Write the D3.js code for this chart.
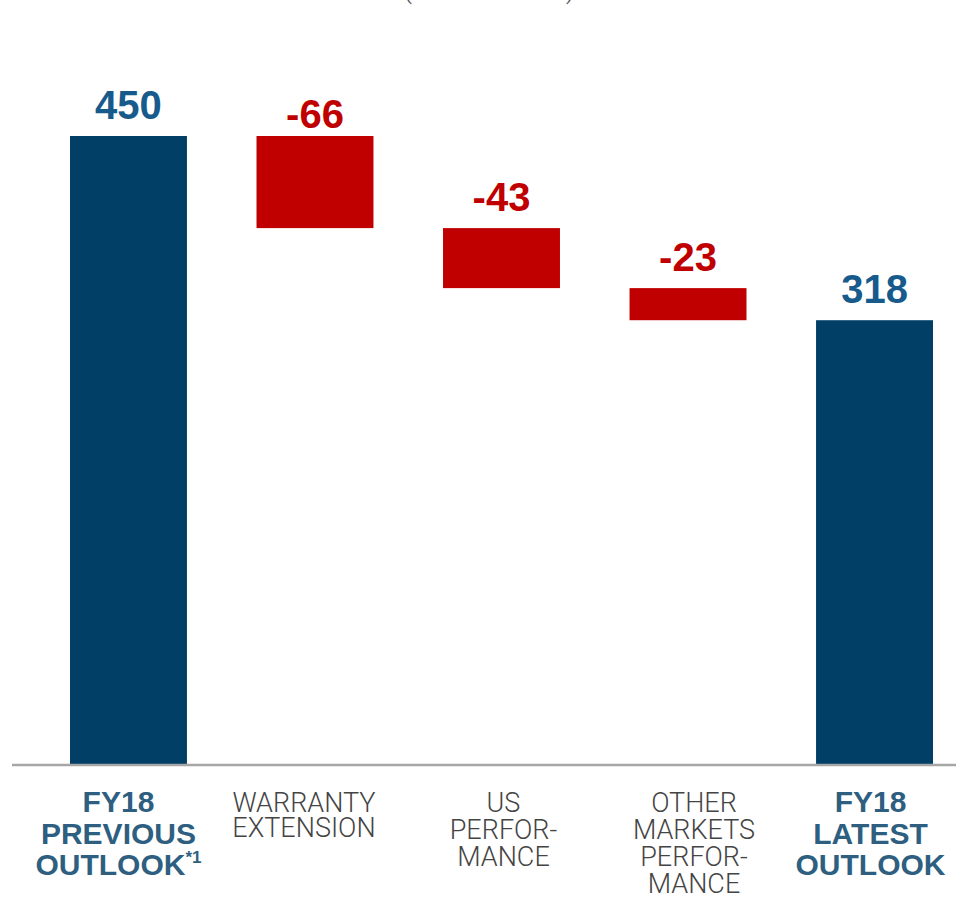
<!DOCTYPE html>
<html>
<head>
<meta charset="utf-8">
<script src="https://cdn.jsdelivr.net/npm/d3@7"></script>
<style>
  body { margin: 0; background: #fff; }
  svg { display: block; }
</style>
</head>
<body>
<svg id="chart"></svg>
<script>
// data
const categories = ['prev', 'warranty', 'us', 'other', 'latest'];
const labelLines = [
    ['FY18', 'PREVIOUS', 'OUTLOOK'],
    ['WARRANTY', 'EXTENSION'],
    ['US', 'PERFOR-', 'MANCE'],
    ['OTHER', 'MARKETS', 'PERFOR-', 'MANCE'],
    ['FY18', 'LATEST', 'OUTLOOK']
];
const kinds = ['total', 'delta', 'delta', 'delta', 'total'];
const values = [450, -66, -43, -23, 318];
const unitLabel = '(BILLION YEN)';

// layout tweaks for the category label blocks (horizontal nudge in px)
const labelShift = { prev: -10, warranty: -11, us: 2, other: 6, latest: -4 };

const width = 956, height = 897;
const baseY = 764;

const svg = d3.select('#chart')
    .attr('width', width)
    .attr('height', height);

// running totals for the waterfall
let running = 0;
const bars = categories.map((c, i) => {
    let y0, y1;
    if (kinds[i] === 'total') {
        y0 = 0; y1 = values[i]; running = values[i];
    } else {
        y0 = running; y1 = running + values[i]; running = y1;
    }
    return { cat: c, kind: kinds[i], value: values[i], lo: Math.min(y0, y1), hi: Math.max(y0, y1), lines: labelLines[i] };
});

const x = d3.scaleBand()
    .domain(categories)
    .range([70, 933])
    .paddingInner(0.373)
    .paddingOuter(0);

const y = d3.scaleLinear()
    .domain([0, 450])
    .range([baseY, 136]);

// unit label, mostly cut off at the top
svg.append('text')
    .attr('x', 489)
    .attr('y', -2)
    .attr('text-anchor', 'middle')
    .attr('font-family', 'Roboto, sans-serif')
    .attr('font-weight', 300)
    .attr('font-size', 27)
    .attr('fill', '#555')
    .text(unitLabel);

// bars
svg.selectAll('rect.bar')
    .data(bars)
    .enter()
    .append('rect')
        .attr('class', 'bar')
        .attr('x', d => x(d.cat))
        .attr('width', x.bandwidth())
        .attr('y', d => y(d.hi))
        .attr('height', d => y(d.lo) - y(d.hi))
        .attr('fill', d => d.kind === 'total' ? '#023f66' : '#c00000');

// axis line
const xAxis = d3.axisBottom(x).tickSize(0).tickFormat('');
svg.append('g')
    .attr('class', 'x-axis')
    .attr('transform', `translate(0, ${baseY + 1})`)
    .call(xAxis)
    .call(g => g.select('.domain')
        .attr('d', `M12,0H${width}`)
        .attr('stroke', '#a6a6a6')
        .attr('stroke-width', 2.5));

// value labels
svg.selectAll('text.value')
    .data(bars)
    .enter()
    .append('text')
        .attr('class', 'value')
        .attr('x', d => x(d.cat) + x.bandwidth() / 2)
        .attr('y', d => y(d.hi) - (d.cat === 'warranty' ? 8 : 17))
        .attr('text-anchor', 'middle')
        .attr('font-family', '"Liberation Sans", Arial, sans-serif')
        .attr('font-weight', 'bold')
        .attr('font-size', 40)
        .attr('fill', d => d.kind === 'total' ? '#175a8c' : '#c00000')
        .text(d => d.value);

// category labels
const catLabels = svg.selectAll('text.cat')
    .data(bars)
    .enter()
    .append('text')
        .attr('class', 'cat')
        .attr('text-anchor', 'middle')
        .attr('font-family', d => d.kind === 'total' ? '"Liberation Sans", Arial, sans-serif' : 'Roboto, sans-serif')
        .attr('font-weight', d => d.kind === 'total' ? 'bold' : 300)
        .attr('font-size', d => d.kind === 'total' ? 30 : 27)
        .attr('fill', d => d.kind === 'total' ? '#2e5f80' : '#444');

catLabels.each(function(d) {
    const t = d3.select(this);
    const cx = x(d.cat) + x.bandwidth() / 2 + labelShift[d.cat];
    const lh = d.kind === 'total' ? 31.5 : (d.cat === 'warranty' ? 24.5 : 27);
    d.lines.forEach((line, j) => {
        t.append('tspan')
            .attr('x', cx)
            .attr('y', 812 + j * lh)
            .text(line);
    });
    if (d.cat === 'prev') {
        t.append('tspan')
            .attr('font-size', 17)
            .attr('dy', -12)
            .text('*1');
    }
});
</script>
</body>
</html>
